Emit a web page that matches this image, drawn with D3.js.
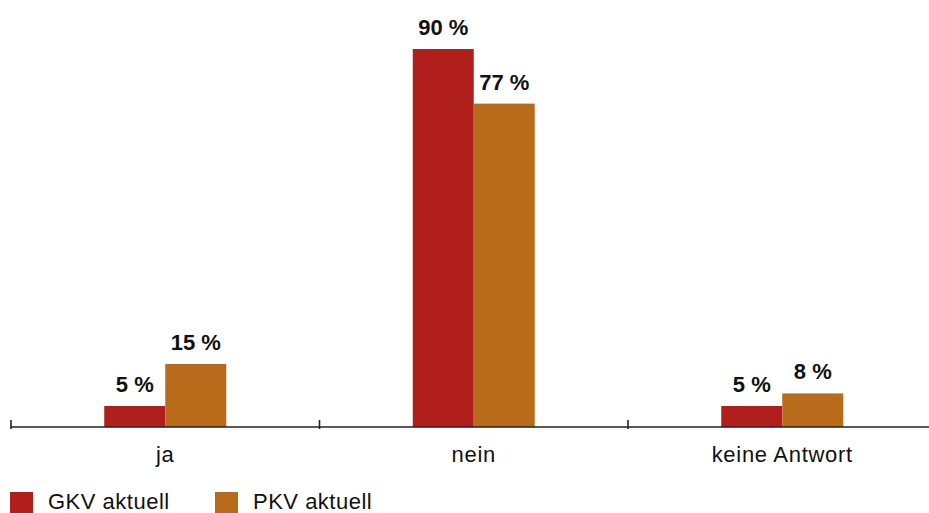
<!DOCTYPE html>
<html>
<head>
<meta charset="utf-8">
<script src="https://cdn.jsdelivr.net/npm/d3@7"></script>
<style>
  html, body { margin: 0; padding: 0; background: #fff; }
  svg { display: block; }
  text { font-family: "Liberation Sans", Arial, Helvetica, sans-serif; fill: #111; }
</style>
</head>
<body>
<svg id="chart" width="929" height="513"></svg>
<script>
const categories = ["ja", "nein", "keine Antwort"];
const seriesNames = ["GKV aktuell", "PKV aktuell"];
const gkvValues = [5, 90, 5];
const pkvValues = [15, 77, 8];
const colors = ["#b01f1b", "#b86c1b"];

const svg = d3.select("#chart");
const baseY = 427;

const x = d3.scaleBand().domain(categories).range([11, 936.5]).padding(0);
const groupW = 122;
const x1 = d3.scaleBand().domain(seriesNames).range([0, groupW]).padding(0);
const y = d3.scaleLinear().domain([0, 100]).range([baseY, 7]);

const data = categories.map((c, i) => ({
  cat: c,
  vals: [
    { s: seriesNames[0], v: gkvValues[i], color: colors[0] },
    { s: seriesNames[1], v: pkvValues[i], color: colors[1] }
  ]
}));

const groups = svg.selectAll("g.grp").data(data).enter().append("g")
  .attr("class", "grp")
  .attr("transform", d => `translate(${x(d.cat) + (x.bandwidth() - groupW) / 2},0)`);

groups.selectAll("rect").data(d => d.vals).enter().append("rect")
  .attr("x", d => x1(d.s))
  .attr("width", x1.bandwidth())
  .attr("y", d => y(d.v))
  .attr("height", d => baseY - y(d.v))
  .attr("fill", d => d.color);

groups.selectAll("text.val").data(d => d.vals).enter().append("text")
  .attr("class", "val")
  .attr("x", d => x1(d.s) + x1.bandwidth() / 2)
  .attr("y", d => y(d.v) - 14)
  .attr("text-anchor", "middle")
  .style("font-size", "22px")
  .style("font-weight", "bold")
  .text(d => d.v + " %");

// axis line
svg.append("line")
  .attr("x1", x.range()[0]).attr("x2", x.range()[1])
  .attr("y1", baseY).attr("y2", baseY)
  .attr("stroke", "#222").attr("stroke-width", 1.6);

// ticks at band boundaries
svg.selectAll("line.tick").data(categories).enter().append("line")
  .attr("class", "tick")
  .attr("x1", d => x(d)).attr("x2", d => x(d))
  .attr("y1", baseY - 7).attr("y2", baseY + 2)
  .attr("stroke", "#222").attr("stroke-width", 1.6);

// category labels
svg.selectAll("text.cat").data(categories).enter().append("text")
  .attr("class", "cat")
  .attr("x", d => x(d) + x.bandwidth() / 2)
  .attr("y", 461.5)
  .attr("text-anchor", "middle")
  .style("font-size", "22px")
  .style("letter-spacing", "0.7px")
  .text(d => d);

// legend
const legendX = [10, 215];
const leg = svg.selectAll("g.leg").data(seriesNames).enter().append("g")
  .attr("class", "leg")
  .attr("transform", (d, i) => `translate(${legendX[i]},492)`);
leg.append("rect").attr("width", 23).attr("height", 21).attr("fill", (d, i) => colors[i]);
leg.append("text").attr("x", 38).attr("y", 16.5)
  .style("font-size", "22px")
  .style("letter-spacing", "0.5px")
  .text(d => d);
</script>
</body>
</html>
